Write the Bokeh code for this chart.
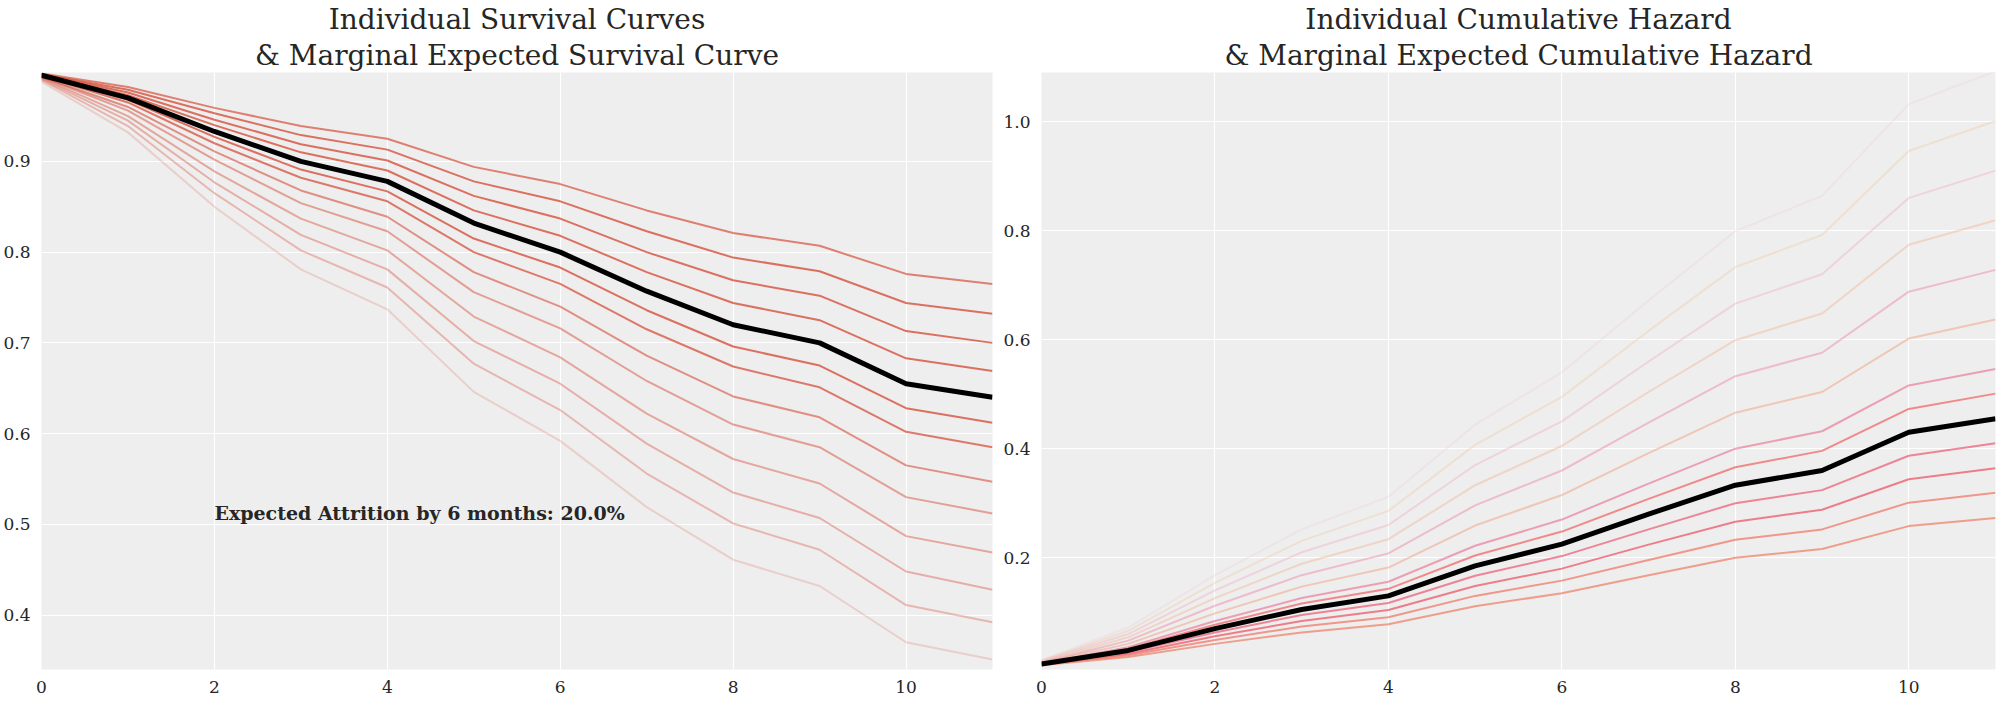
from bokeh.plotting import figure
from bokeh.layouts import row
from bokeh.models import Title, Range1d, FixedTicker, Label, NumeralTickFormatter
from bokeh.embed import file_html
from bokeh.resources import INLINE

months = list(range(12))

surv_marginal = [0.995, 0.970, 0.933, 0.900, 0.878, 0.832, 0.800, 0.757, 0.720, 0.700, 0.655, 0.640]
surv_curves = [
    [0.997, 0.982, 0.959, 0.939, 0.925, 0.894, 0.875, 0.846, 0.821, 0.807, 0.776, 0.765],
    [0.996, 0.979, 0.953, 0.929, 0.913, 0.878, 0.856, 0.823, 0.794, 0.779, 0.744, 0.732],
    [0.996, 0.976, 0.946, 0.919, 0.901, 0.862, 0.837, 0.800, 0.769, 0.752, 0.713, 0.700],
    [0.996, 0.973, 0.940, 0.910, 0.890, 0.846, 0.818, 0.778, 0.744, 0.725, 0.683, 0.669],
    [0.995, 0.968, 0.927, 0.891, 0.867, 0.815, 0.783, 0.736, 0.696, 0.675, 0.628, 0.612],
    [0.994, 0.965, 0.920, 0.882, 0.856, 0.800, 0.765, 0.715, 0.674, 0.651, 0.602, 0.585],
    [0.993, 0.960, 0.911, 0.868, 0.839, 0.778, 0.740, 0.686, 0.641, 0.618, 0.565, 0.547],
    [0.993, 0.956, 0.902, 0.854, 0.823, 0.756, 0.716, 0.658, 0.610, 0.585, 0.530, 0.512],
    [0.992, 0.950, 0.889, 0.837, 0.802, 0.729, 0.684, 0.622, 0.572, 0.545, 0.487, 0.469],
    [0.991, 0.945, 0.877, 0.819, 0.781, 0.702, 0.655, 0.589, 0.535, 0.507, 0.448, 0.428],
    [0.990, 0.939, 0.865, 0.802, 0.761, 0.677, 0.626, 0.556, 0.501, 0.472, 0.411, 0.392],
    [0.988, 0.932, 0.850, 0.781, 0.737, 0.646, 0.592, 0.519, 0.461, 0.432, 0.370, 0.351],
]
surv_alpha = [0.7, 0.8, 0.8, 0.8, 0.8, 0.75, 0.6, 0.5, 0.45, 0.4, 0.35, 0.2]

haz_marginal = [0.005, 0.030, 0.070, 0.105, 0.130, 0.185, 0.225, 0.280, 0.333, 0.360, 0.430, 0.455]
haz_curves = [
    [0.003, 0.018, 0.042, 0.063, 0.078, 0.111, 0.135, 0.168, 0.200, 0.216, 0.258, 0.273],
    [0.004, 0.021, 0.049, 0.074, 0.091, 0.130, 0.158, 0.196, 0.233, 0.252, 0.301, 0.319],
    [0.004, 0.024, 0.056, 0.084, 0.104, 0.148, 0.180, 0.224, 0.266, 0.288, 0.344, 0.364],
    [0.005, 0.027, 0.063, 0.095, 0.117, 0.167, 0.203, 0.252, 0.300, 0.324, 0.387, 0.410],
    [0.006, 0.033, 0.077, 0.116, 0.143, 0.204, 0.248, 0.308, 0.366, 0.396, 0.473, 0.501],
    [0.006, 0.036, 0.084, 0.126, 0.156, 0.222, 0.270, 0.336, 0.400, 0.432, 0.516, 0.546],
    [0.007, 0.042, 0.098, 0.147, 0.182, 0.259, 0.315, 0.392, 0.466, 0.504, 0.602, 0.637],
    [0.008, 0.048, 0.112, 0.168, 0.208, 0.296, 0.360, 0.448, 0.533, 0.576, 0.688, 0.728],
    [0.009, 0.054, 0.126, 0.189, 0.234, 0.333, 0.405, 0.504, 0.599, 0.648, 0.774, 0.819],
    [0.010, 0.060, 0.140, 0.210, 0.260, 0.370, 0.450, 0.560, 0.666, 0.720, 0.860, 0.910],
    [0.011, 0.066, 0.154, 0.231, 0.286, 0.407, 0.495, 0.616, 0.733, 0.792, 0.946, 1.001],
    [0.012, 0.072, 0.168, 0.252, 0.312, 0.444, 0.540, 0.672, 0.799, 0.864, 1.032, 1.092],
]
haz_colors = ["#ee8a70", "#f07868", "#ee6070", "#ec6a80", "#f06868", "#e86a8c",
              "#f0a080", "#ec80a0", "#f0b088", "#f0a0b8", "#f0c090", "#f0b8c8"]
haz_alpha = [0.8, 0.75, 0.8, 0.8, 0.75, 0.6, 0.5, 0.45, 0.4, 0.35, 0.3, 0.2]

x_ticks = [0, 2, 4, 6, 8, 10]
surv_ticks = [0.4, 0.5, 0.6, 0.7, 0.8, 0.9]
haz_ticks = [0.2, 0.4, 0.6, 0.8, 1.0]

FONT = "DejaVu Serif"

def base(line1, line2, y0, y1, yt, bl, br):
    p = figure(width=1000, height=695, output_backend="svg", toolbar_location=None,
               x_range=Range1d(0, 11), y_range=Range1d(y0, y1),
               min_border_left=bl, min_border_right=br, min_border_bottom=26, min_border_top=0)
    p.title.text = line1
    p.title.align = "center"
    p.title.text_font = FONT
    p.title.text_font_size = "28px"
    p.title.text_font_style = "normal"
    p.title.text_color = "#262626"
    p.title.standoff = 0
    p.add_layout(Title(text=line2, align="center", text_font=FONT, text_font_size="28px",
                       text_font_style="normal", text_color="#262626", standoff=2), "above")
    p.background_fill_color = "#eeeeee"
    p.border_fill_color = "white"
    p.outline_line_color = None
    p.grid.grid_line_color = "white"
    p.grid.grid_line_width = 1.2
    p.xaxis.ticker = FixedTicker(ticks=x_ticks)
    p.yaxis.ticker = FixedTicker(ticks=yt)
    p.yaxis.formatter = NumeralTickFormatter(format="0.0")
    for ax in p.axis:
        ax.axis_line_color = None
        ax.major_tick_line_color = None
        ax.minor_tick_line_color = None
        ax.major_label_text_font = FONT
        ax.major_label_text_font_size = "17px"
        ax.major_label_text_color = "#262626"
        ax.major_label_standoff = 5
    return p

p1 = base("Individual Survival Curves", "& Marginal Expected Survival Curve",
          0.34, 0.998, surv_ticks, 41, 8)
for c, a in zip(surv_curves, surv_alpha):
    p1.line(months, c, line_color="#d6503c", line_alpha=a, line_width=2)
p1.line(months, surv_marginal, line_color="black", line_width=5)
p1.add_layout(Label(x=2, y=0.5, text="Expected Attrition by 6 months: 20.0%",
                    text_font=FONT, text_font_size="19px", text_font_style="bold",
                    text_color="#262626"))

p2 = base("Individual Cumulative Hazard", "& Marginal Expected Cumulative Hazard",
          -0.005, 1.09, haz_ticks, 39, 5)
for c, col, a in zip(haz_curves, haz_colors, haz_alpha):
    p2.line(months, c, line_color=col, line_alpha=a, line_width=2)
p2.line(months, haz_marginal, line_color="black", line_width=5)

layout = row(p1, p2)
open("out.html", "w").write(file_html(layout, INLINE))
